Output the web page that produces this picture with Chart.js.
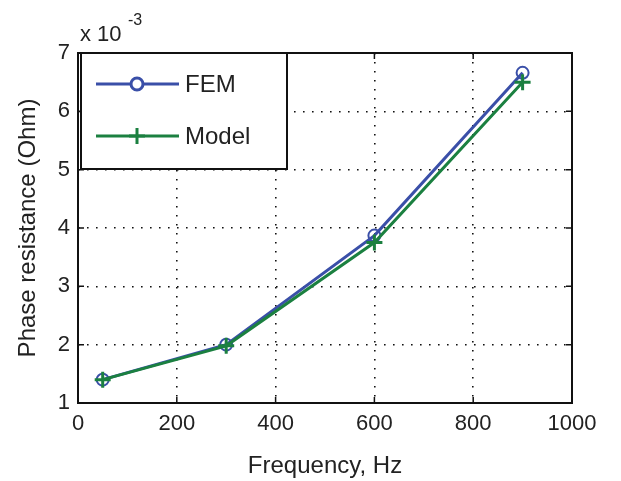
<!DOCTYPE html>
<html>
<head>
<meta charset="utf-8">
<script src="https://cdn.jsdelivr.net/npm/chart.js"></script>
<style>
  html, body { margin: 0; padding: 0; background: #fff; }
  #wrap { width: 621px; height: 481px; }
</style>
</head>
<body>
<div id="wrap"><canvas id="chart" width="621" height="481"></canvas></div>
<script>
// frequencies in Hz, resistance in units of 1e-3 Ohm
var frequencies = [50, 300, 600, 900];
var femValues = [1.4, 2.0, 3.87, 6.66];
var modelValues = [1.4, 1.98, 3.75, 6.5];
var xTicks = [0, 200, 400, 600, 800, 1000];
var yTicks = [1, 2, 3, 4, 5, 6, 7];

var FONT = 'Liberation Sans, Arial, sans-serif';
var TEXT = '#222';

function toPoints(xs, ys) {
    return xs.map(function(x, i) {
        return {x: x, y: ys[i]};
    });
}

// MATLAB-style box, inward ticks, exponent label and legend
var matlabLook = {
    id: 'matlabLook',
    afterDraw: function(chart) {
        var ctx = chart.ctx;
        var a = chart.chartArea;
        var xs = chart.scales.x;
        var ys = chart.scales.y;
        ctx.save();
        ctx.strokeStyle = '#111';
        ctx.lineWidth = 2;
        ctx.strokeRect(a.left, a.top, a.right - a.left, a.bottom - a.top);

        ctx.lineWidth = 1.5;
        xTicks.forEach(function(v) {
            var px = xs.getPixelForValue(v);
            ctx.beginPath();
            ctx.moveTo(px, a.bottom); ctx.lineTo(px, a.bottom - 6);
            ctx.moveTo(px, a.top); ctx.lineTo(px, a.top + 6);
            ctx.stroke();
        });
        yTicks.forEach(function(v) {
            var py = ys.getPixelForValue(v);
            ctx.beginPath();
            ctx.moveTo(a.left, py); ctx.lineTo(a.left + 6, py);
            ctx.moveTo(a.right, py); ctx.lineTo(a.right - 6, py);
            ctx.stroke();
        });

        // exponent label
        ctx.fillStyle = TEXT;
        ctx.textBaseline = 'alphabetic';
        ctx.textAlign = 'left';
        ctx.font = '22px ' + FONT;
        ctx.fillText('x 10', a.left + 2, a.top - 12);
        ctx.font = '16px ' + FONT;
        ctx.fillText('-3', a.left + 50, a.top - 28);

        // legend box
        var lx = a.left + 3, ly = a.top, lw = 206, lh = 116;
        ctx.fillStyle = '#fff';
        ctx.fillRect(lx, ly, lw, lh);
        ctx.strokeStyle = '#111';
        ctx.lineWidth = 2;
        ctx.strokeRect(lx, ly, lw, lh);

        chart.data.datasets.forEach(function(ds, i) {
            var cy = ly + 31 + i * 52;
            ctx.strokeStyle = ds.borderColor;
            ctx.lineWidth = 3;
            ctx.beginPath();
            ctx.moveTo(lx + 15, cy);
            ctx.lineTo(lx + 98, cy);
            ctx.stroke();
            Chart.helpers.drawPoint(ctx, {
                pointStyle: ds.pointStyle,
                radius: ds.pointRadius,
                borderWidth: ds.pointBorderWidth
            }, lx + 56, cy);
            ctx.fillStyle = TEXT;
            ctx.font = '24px ' + FONT;
            ctx.textAlign = 'left';
            ctx.textBaseline = 'middle';
            ctx.fillText(ds.label, lx + 104, cy + 1);
        });
        ctx.restore();
    }
};

var gridOpts = {
    color: '#111',
    lineWidth: 1.6,
    drawTicks: false
};
var borderOpts = {
    display: false,
    dash: [1.6, 7.4]
};

new Chart(document.getElementById('chart'), {
    type: 'line',
    data: {
        datasets: [{
            label: 'FEM',
            data: toPoints(frequencies, femValues),
            order: 2,
            borderColor: '#3a4fa8',
            backgroundColor: '#fff',
            borderWidth: 3,
            pointStyle: 'circle',
            pointRadius: 6,
            pointBorderWidth: 2,
            pointBorderColor: '#3a4fa8',
            pointBackgroundColor: 'rgba(0,0,0,0)',
            tension: 0
        }, {
            label: 'Model',
            data: toPoints(frequencies, modelValues),
            order: 1,
            borderColor: '#1b8040',
            backgroundColor: '#1b8040',
            borderWidth: 3,
            pointStyle: 'cross',
            pointRadius: 8,
            pointBorderWidth: 3,
            pointBorderColor: '#1b8040',
            tension: 0
        }]
    },
    options: {
        responsive: false,
        animation: false,
        layout: {
            padding: {top: 53, right: 49, left: 14, bottom: 0}
        },
        plugins: {
            legend: {display: false},
            tooltip: {enabled: false}
        },
        scales: {
            x: {
                type: 'linear',
                min: 0,
                max: 1000,
                afterBuildTicks: function(scale) {
                    scale.ticks = xTicks.map(function(v) { return {value: v}; });
                },
                afterFit: function(scale) { scale.height = 78; },
                grid: gridOpts,
                border: borderOpts,
                ticks: {
                    padding: 8,
                    color: TEXT,
                    font: {family: FONT, size: 22},
                    callback: function(v) { return String(v); }
                },
                title: {
                    display: true,
                    text: 'Frequency, Hz',
                    color: TEXT,
                    padding: {top: 2, bottom: 0},
                    font: {family: FONT, size: 24}
                }
            },
            y: {
                type: 'linear',
                min: 1,
                max: 7,
                afterBuildTicks: function(scale) {
                    scale.ticks = yTicks.map(function(v) { return {value: v}; });
                },
                afterFit: function(scale) { scale.width = 64; },
                grid: gridOpts,
                border: borderOpts,
                ticks: {
                    padding: 8,
                    color: TEXT,
                    font: {family: FONT, size: 22},
                    callback: function(v) { return String(v); }
                },
                title: {
                    display: true,
                    text: 'Phase resistance (Ohm)',
                    color: TEXT,
                    padding: {top: 0, bottom: 0},
                    font: {family: FONT, size: 24}
                }
            }
        }
    },
    plugins: [matlabLook]
});
</script>
</body>
</html>
